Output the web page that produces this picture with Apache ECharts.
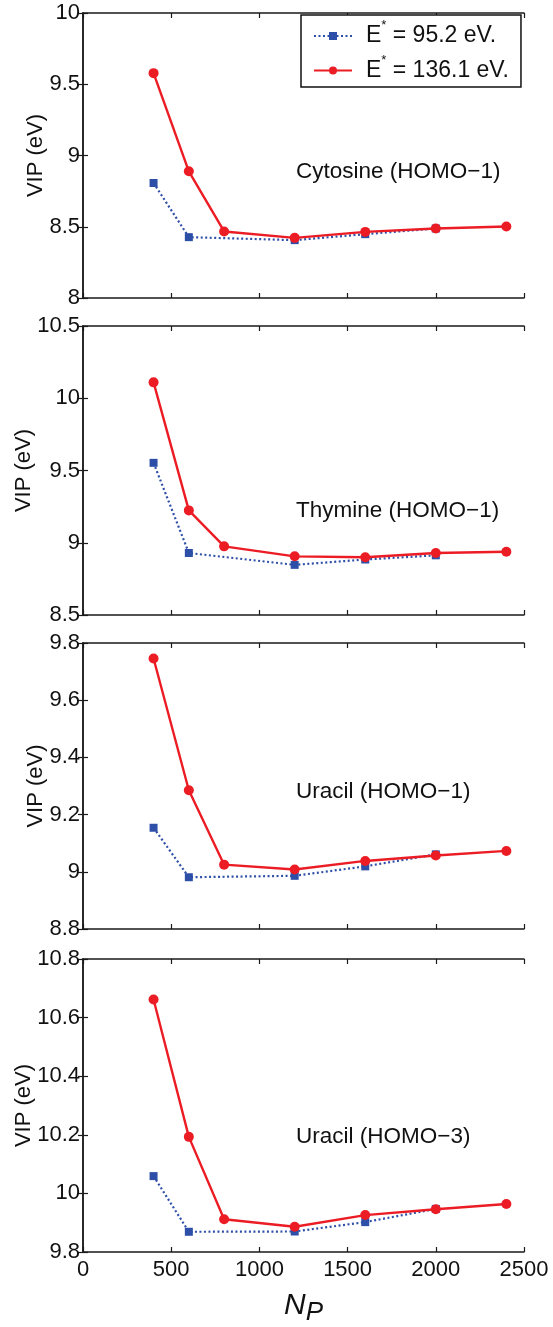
<!DOCTYPE html>
<html><head><meta charset="utf-8">
<script src="https://cdn.jsdelivr.net/npm/echarts@6/dist/echarts.min.js"></script>
<style>html,body{margin:0;padding:0;background:#fff}#c{width:553px;height:1327px}</style>
</head><body><div id="c"></div><script>
// ---- data ----
const npHigh = [400, 600, 800, 1200, 1600, 2000, 2400];
const npLow = [400, 600, 1200, 1600, 2000];
const xTicks = [0, 500, 1000, 1500, 2000, 2500];
const panelNames = ['Cytosine (HOMO\u22121)', 'Thymine (HOMO\u22121)', 'Uracil (HOMO\u22121)', 'Uracil (HOMO\u22123)'];
const legendNames = ['E* = 95.2 eV.', 'E* = 136.1 eV.'];
const yTicksCytosine = [8, 8.5, 9, 9.5, 10];
const yTicksThymine = [8.5, 9, 9.5, 10, 10.5];
const yTicksUracil1 = [8.8, 9, 9.2, 9.4, 9.6, 9.8];
const yTicksUracil3 = [9.8, 10, 10.2, 10.4, 10.6, 10.8];
const cytosineLow = [8.807, 8.427, 8.406, 8.448, 8.488];
const cytosineHigh = [9.578, 8.889, 8.467, 8.422, 8.464, 8.488, 8.502];
const thymineLow = [9.553, 8.929, 8.847, 8.884, 8.913];
const thymineHigh = [10.110, 9.224, 8.975, 8.906, 8.900, 8.929, 8.938];
const uracil1Low = [9.154, 8.981, 8.986, 9.019, 9.061];
const uracil1High = [9.746, 9.285, 9.025, 9.008, 9.038, 9.057, 9.073];
const uracil3Low = [10.059, 9.869, 9.870, 9.902, 9.947];
const uracil3High = [10.662, 10.193, 9.912, 9.886, 9.926, 9.946, 9.964];

const lowSets = [cytosineLow, thymineLow, uracil1Low, uracil3Low];
const highSets = [cytosineHigh, thymineHigh, uracil1High, uracil3High];
const yTickSets = [yTicksCytosine, yTicksThymine, yTicksUracil1, yTicksUracil3];

// ---- layout / style ----
const gridTops = [13, 326, 643, 959];
const gridHeights = [285, 289, 286, 293];
const nameGaps = [36, 48, 36, 48];
const annotY = [172, 511, 792, 1137];
const BLUE = '#2E4FA8', RED = '#EC1C24', AX = '#1a1a1a';
const FONT = 'Liberation Sans, Arial, Helvetica, sans-serif';

const grids = [], xAxes = [], yAxes = [], series = [], graphics = [];
const axLine = {show: true, lineStyle: {color: AX, width: 1.5}};
const tick = {show: true, inside: true, length: 5, lineStyle: {color: AX, width: 1.2}};
const numFmt = v => String(+(+v).toFixed(4));

for (let i = 0; i < 4; i++) {
  grids.push({left: 83, right: 29, top: gridTops[i], height: gridHeights[i]});
  const isLast = i === 3;
  xAxes.push({
    gridIndex: i, type: 'value', position: 'bottom',
    min: xTicks[0], max: xTicks[xTicks.length - 1], interval: xTicks[1] - xTicks[0],
    axisLine: axLine, axisTick: tick, splitLine: {show: false},
    axisLabel: {show: isLast, color: '#111', fontSize: 22, fontFamily: FONT, margin: 7, formatter: numFmt},
    name: isLast ? '{n|N}{p|P}' : '', nameLocation: 'middle', nameGap: 39, nameMoveOverlap: false,
    nameTextStyle: {rich: {
      n: {fontSize: 30, fontStyle: 'italic', fontFamily: FONT, color: '#111', lineHeight: 30},
      p: {fontSize: 26, fontStyle: 'italic', fontFamily: FONT, color: '#111', lineHeight: 26, padding: [14, 0, 0, 0]}
    }}
  });
  xAxes.push({
    gridIndex: i, type: 'value', position: 'top',
    min: xTicks[0], max: xTicks[xTicks.length - 1], interval: xTicks[1] - xTicks[0],
    axisLine: axLine, axisTick: tick, splitLine: {show: false}, axisLabel: {show: false}
  });
  const yt = yTickSets[i];
  yAxes.push({
    gridIndex: i, type: 'value', position: 'left',
    min: yt[0], max: yt[yt.length - 1], interval: +(yt[1] - yt[0]).toFixed(4),
    axisLine: axLine, axisTick: tick, splitLine: {show: false},
    axisLabel: {color: '#111', fontSize: 22, fontFamily: FONT, margin: 3, formatter: numFmt},
    name: 'VIP (eV)', nameLocation: 'middle', nameGap: nameGaps[i], nameMoveOverlap: false,
    nameTextStyle: {color: '#111', fontSize: 22, fontFamily: FONT}
  });
  yAxes.push({
    gridIndex: i, type: 'value', position: 'right',
    min: yt[0], max: yt[yt.length - 1], interval: +(yt[1] - yt[0]).toFixed(4),
    axisLine: axLine, axisTick: tick, splitLine: {show: false}, axisLabel: {show: false}
  });
  series.push({
    type: 'line', name: legendNames[0], xAxisIndex: 2 * i, yAxisIndex: 2 * i,
    data: npLow.map((x, k) => [x, lowSets[i][k]]),
    symbol: 'rect', symbolSize: 8, color: BLUE,
    lineStyle: {color: BLUE, width: 2.2, type: [2, 2.5]},
    itemStyle: {color: BLUE}, z: 2, animation: false
  });
  series.push({
    type: 'line', name: legendNames[1], xAxisIndex: 2 * i, yAxisIndex: 2 * i,
    data: npHigh.map((x, k) => [x, highSets[i][k]]),
    symbol: 'circle', symbolSize: 10, color: RED,
    lineStyle: {color: RED, width: 2.4, type: 'solid'},
    itemStyle: {color: RED}, z: 3, animation: false
  });
  graphics.push({
    type: 'text', x: 296, y: annotY[i],
    style: {text: panelNames[i], fontSize: 22.5, fontFamily: FONT, fill: '#111', verticalAlign: 'middle'}
  });
}

const legendRich = {
  e: {fontSize: 23, fontFamily: FONT, color: '#111', lineHeight: 34, padding: [0, 0, 0, 9]},
  s: {fontSize: 13, fontFamily: FONT, color: '#111', lineHeight: 13, verticalAlign: 'top', padding: [0, 0, 4, 0]},
  t: {fontSize: 23, fontFamily: FONT, color: '#111', lineHeight: 34}
};

const chart = echarts.init(document.getElementById('c'), null, {renderer: 'canvas'});
chart.setOption({
  animation: false,
  backgroundColor: '#fff',
  grid: grids, xAxis: xAxes, yAxis: yAxes, series: series,
  legend: {
    data: legendNames, orient: 'vertical', left: 301, top: 15,
    itemWidth: 38, itemHeight: 10, itemGap: 6,
    padding: [4, 12, 5, 12],
    borderColor: '#111', borderWidth: 1.5, backgroundColor: '#fff',
    formatter: name => '{e|E}{s|*}{t|' + name.slice(2) + '}',
    textStyle: {rich: legendRich}
  },
  graphic: graphics
});
</script></body></html>
